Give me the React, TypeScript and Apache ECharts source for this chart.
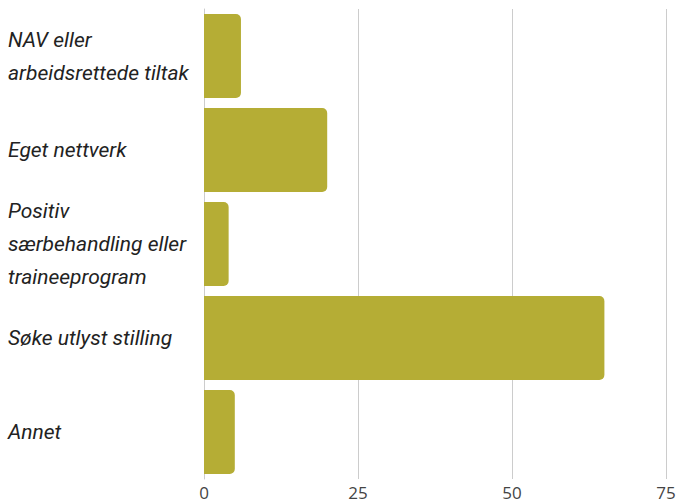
import React, { useEffect, useRef } from "react";
import * as echarts from "echarts";

const categories = [
  "NAV eller\narbeidsrettede tiltak",
  "Eget nettverk",
  "Positiv\nsærbehandling eller\ntraineeprogram",
  "Søke utlyst stilling",
  "Annet",
];
const values = [6, 20, 4, 65, 5];
const xTicks = [0, 25, 50, 75];

export default function App() {
  const ref = useRef<HTMLDivElement>(null);
  useEffect(() => {
    if (!ref.current) return;
    const chart = echarts.init(ref.current, undefined, { renderer: "svg" });
    chart.setOption({
      animation: false,
      grid: { left: 204, right: 13, top: 9, bottom: 23, containLabel: false },
      xAxis: {
        type: "value",
        min: xTicks[0],
        max: xTicks[xTicks.length - 1],
        interval: 25,
        axisLine: { show: false },
        axisTick: { show: false },
        splitLine: { lineStyle: { color: "#cccccc", width: 1 } },
        axisLabel: {
          color: "#444444",
          fontSize: 17,
          fontFamily: "Open Sans",
          margin: 5,
        },
      },
      yAxis: {
        type: "category",
        data: categories,
        inverse: true,
        axisLine: { show: true, lineStyle: { color: "#cccccc" } },
        axisTick: { show: false },
        axisLabel: {
          align: "left",
          margin: 196,
          color: "#222222",
          fontSize: 21,
          fontStyle: "italic",
          fontFamily: "Roboto",
          lineHeight: 33,
        },
      },
      series: [
        {
          type: "bar",
          data: values,
          barCategoryGap: "10.6%",
          itemStyle: { color: "#b5ad35", borderRadius: [0, 5, 5, 0] },
        },
      ],
    });
    return () => chart.dispose();
  }, []);
  return <div ref={ref} style={{ width: 679, height: 502, position: "absolute", left: 0, top: 0 }} />;
}
